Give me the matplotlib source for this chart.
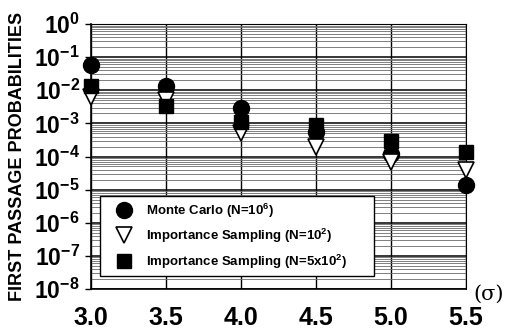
import numpy as np
import matplotlib
matplotlib.use("Agg")
import matplotlib.pyplot as plt
from matplotlib.patches import Rectangle
from matplotlib.ticker import FixedLocator, FuncFormatter, LogLocator

plt.rcParams['font.family'] = ['Liberation Sans', 'DejaVu Sans']
plt.rcParams['mathtext.fontset'] = 'custom'
plt.rcParams['mathtext.rm'] = 'Liberation Sans:bold'
plt.rcParams['mathtext.it'] = 'Liberation Sans:bold'
plt.rcParams['mathtext.bf'] = 'Liberation Sans:bold'

# Threshold levels (in units of sigma)
sigma = [3.0, 3.5, 4.0, 4.5, 5.0, 5.5]

# First passage probabilities
monte_carlo = [5.7e-2, 1.3e-2, 3.0e-3, 5.4e-4, 1.2e-4, 1.4e-5]
is_n100 = [6.3e-3, 5.0e-3, 5.0e-4, 2.0e-4, 7.0e-5, 3.8e-5]
is_n500 = [1.3e-2, 3.3e-3, 1.1e-3, 8.7e-4, 3.0e-4, 1.4e-4]

x_ticks = [3.0, 3.5, 4.0, 4.5, 5.0, 5.5]
x_tick_labels = ['3.0', '3.5', '4.0', '4.5', '5.0', '5.5']
y_exponents = [0, -1, -2, -3, -4, -5, -6, -7, -8]

fig = plt.figure(figsize=(5.15, 3.34), dpi=100)
ax = fig.add_axes([0.1767, 0.1347, 0.7282, 0.7934])

ax.set_yscale('log')
ax.set_xlim(3.0, 5.5)
ax.set_ylim(1e-8, 1)

# dense horizontal grid at every log subdivision, vertical grid at each tick
ax.yaxis.set_minor_locator(LogLocator(base=10, subs=np.arange(2, 10),
                                      numticks=200))
ax.grid(True, which='minor', axis='y', color='#6a6a6a', lw=0.6)
ax.grid(True, which='major', axis='y', color='black', lw=1.1)
ax.grid(True, which='major', axis='x', color='black', lw=1.0)
ax.set_axisbelow(True)

ax.plot(sigma, monte_carlo, 'o', ms=11.5, color='black', mec='black',
        clip_on=False, zorder=3, label='Monte Carlo (N=10$^{6}$)')
ax.plot(sigma, is_n100, 'v', ms=11.5, mfc='white', mec='black', mew=1.2,
        clip_on=False, zorder=4, label='Importance Sampling (N=10$^{2}$)')
ax.plot(sigma, is_n500, 's', ms=10.5, color='black', mec='black',
        clip_on=False, zorder=5, label='Importance Sampling (N=5x10$^{2}$)')

ax.xaxis.set_major_locator(FixedLocator(x_ticks))
ax.set_xticklabels(x_tick_labels, fontsize=18, fontweight='bold')
ax.yaxis.set_major_locator(FixedLocator([10.0 ** e for e in y_exponents]))
ax.yaxis.set_major_formatter(FuncFormatter(
    lambda v, p: '$10^{%d}$' % int(round(np.log10(v)))))
ax.tick_params(axis='y', which='major', labelsize=16.5, length=4, width=1,
               pad=4)
ax.tick_params(axis='y', which='minor', length=0)
ax.tick_params(axis='x', length=0, pad=12)

for s in ['top', 'right']:
    ax.spines[s].set_linewidth(0.8)
for s in ['left', 'bottom']:
    ax.spines[s].set_linewidth(1.2)

ax.set_ylabel('FIRST PASSAGE PROBABILITIES', fontsize=13, fontweight='bold',
              labelpad=6)

fig.text(0.948, 0.118, '(σ)', fontsize=15, family='DejaVu Serif',
         ha='center', va='center')

# legend box
frame = Rectangle((0.024, 0.049), 0.731, 0.302, transform=ax.transAxes,
                  facecolor='white', edgecolor='black', lw=1.0, zorder=6)
ax.add_patch(frame)
leg = ax.legend(loc='center left', bbox_to_anchor=(0.066, 0.2),
                frameon=False, prop={'weight': 'bold', 'size': 9.5},
                handletextpad=1.1, borderpad=0, labelspacing=0.55,
                handlelength=1.2, borderaxespad=0)
leg.set_zorder(7)

fig.savefig('out.png', dpi=100)
